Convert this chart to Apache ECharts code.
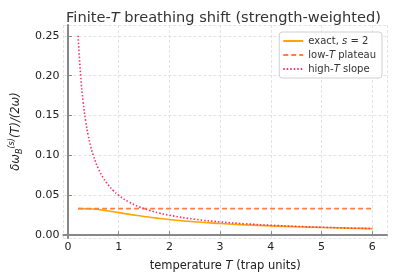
<!DOCTYPE html>
<html><head><meta charset="utf-8">
<script src="https://cdn.jsdelivr.net/npm/echarts@6/dist/echarts.min.js"></script>
<style>html,body{margin:0;padding:0;background:#fff}#c{width:397px;height:278px}</style>
</head><body><div id="c"></div>
<script>
const exactT = [0.2,0.4,0.6,0.8,1.0,1.25,1.5,1.75,2.0,2.5,3.0,3.5,4.0,4.5,5.0,5.5,6.0];
const exactV = [0.0333,0.0332,0.0322,0.0303,0.0283,0.0258,0.0235,0.0214,0.0196,0.0168,0.0147,0.0130,0.0117,0.0106,0.0097,0.0089,0.0083];
const plateauT = [0.2, 6.0];
const plateauV = [0.0333, 0.0333];
const slopeT = [0.2,0.25,0.3,0.35,0.4,0.45,0.5,0.6,0.7,0.8,0.9,1.0,1.2,1.4,1.6,1.8,2.0,2.5,3.0,3.5,4.0,4.5,5.0,5.5,6.0];
const slopeV = [0.25,0.2,0.1667,0.1429,0.125,0.1111,0.1,0.0833,0.0714,0.0625,0.0556,0.05,0.0417,0.0357,0.0313,0.0278,0.025,0.02,0.0167,0.0143,0.0125,0.0111,0.01,0.0091,0.0083];
const seriesNames = ['exact, s = 2', 'low-T plateau', 'high-T slope'];

const zip = (a, b) => a.map((x, i) => [x, b[i]]);
const FF = 'DejaVu Sans';
const chart = echarts.init(document.getElementById('c'), null, {renderer: 'canvas'});
const gridLine = {show: true, lineStyle: {color: '#dcdcdc', type: [3, 2], width: 0.8}};
chart.setOption({
  animation: false,
  textStyle: {fontFamily: FF},
  title: {
    text: '{n|Finite-}{i|T}{n| breathing shift (strength-weighted)}',
    left: 61, top: 6,
    textStyle: {fontWeight: 'normal', rich: {
      n: {fontFamily: FF, fontSize: 14.6, color: '#333', fontWeight: 'normal'},
      i: {fontFamily: FF, fontSize: 14.6, color: '#333', fontStyle: 'italic', fontWeight: 'normal'}
    }}
  },
  grid: {left: 56, right: 10, top: 25, bottom: 40, containLabel: false},
  legend: {
    right: 15, top: 32, orient: 'vertical', itemWidth: 20, itemHeight: 10, itemGap: 4,
    backgroundColor: 'rgba(255,255,255,0.85)', borderColor: '#d0d0d0', borderWidth: 1, borderRadius: 3,
    padding: [4, 6, 4, 3],
    itemStyle: {opacity: 0, borderWidth: 0},
    data: seriesNames,
    formatter: function (n) {
      if (n === seriesNames[0]) return '{n|exact, }{i|s}{n| = 2}';
      if (n === seriesNames[1]) return '{n|low-}{i|T}{n| plateau}';
      return '{n|high-}{i|T}{n| slope}';
    },
    textStyle: {rich: {
      n: {fontFamily: FF, fontSize: 10, color: '#333'},
      i: {fontFamily: FF, fontSize: 10, color: '#333', fontStyle: 'italic'}
    }}
  },
  xAxis: {
    type: 'value', min: -0.09, max: 6.29, splitNumber: 5,
    name: '{n|temperature }{i|T}{n| (trap units)}', nameLocation: 'middle', nameGap: 22,
    nameTextStyle: {rich: {
      n: {fontFamily: FF, fontSize: 11.5, color: '#222'},
      i: {fontFamily: FF, fontSize: 11.5, color: '#222', fontStyle: 'italic'}
    }},
    axisLine: {lineStyle: {color: '#888', width: 2}},
    axisTick: {inside: true, length: 4, lineStyle: {color: '#888'}},
    axisLabel: {color: '#222', fontSize: 11, margin: 4, showMinLabel: false, showMaxLabel: false},
    splitLine: gridLine
  },
  yAxis: {
    type: 'value', min: -0.0035, max: 0.2635, splitNumber: 5,
    name: '{i|δω}{sb|B}{sp|(s)}{i|(T)/(2ω)}', nameLocation: 'middle', nameGap: 35, nameRotate: 90,
    nameTextStyle: {rich: {
      i: {fontFamily: FF, fontSize: 11.5, color: '#222', fontStyle: 'italic', lineHeight: 16, verticalAlign: 'middle'},
      sb: {fontFamily: FF, fontSize: 8, color: '#222', fontStyle: 'italic', lineHeight: 16, verticalAlign: 'bottom'},
      sp: {fontFamily: FF, fontSize: 8, color: '#222', fontStyle: 'italic', lineHeight: 16, verticalAlign: 'top'}
    }},
    axisLine: {show: true, lineStyle: {color: '#888', width: 2}},
    axisTick: {show: true, inside: true, length: 4, lineStyle: {color: '#888'}},
    axisLabel: {color: '#222', fontSize: 11, margin: 4, showMinLabel: false, showMaxLabel: false,
      formatter: v => v.toFixed(2)},
    splitLine: gridLine
  },
  series: [
    {name: seriesNames[0], type: 'line', data: zip(exactT, exactV), symbol: 'none', smooth: true,
      lineStyle: {color: '#FFA500', width: 1.6}, itemStyle: {color: '#FFA500'}},
    {name: seriesNames[1], type: 'line', data: zip(plateauT, plateauV), symbol: 'none',
      lineStyle: {color: '#FF7F3F', width: 1.6, type: [5, 3]}, itemStyle: {color: '#FF7F3F'}},
    {name: seriesNames[2], type: 'line', data: zip(slopeT, slopeV), symbol: 'none', smooth: true,
      lineStyle: {color: '#FF3366', width: 1.6, type: [1.5, 2]}, itemStyle: {color: '#FF3366'}}
  ]
});
</script></body></html>
